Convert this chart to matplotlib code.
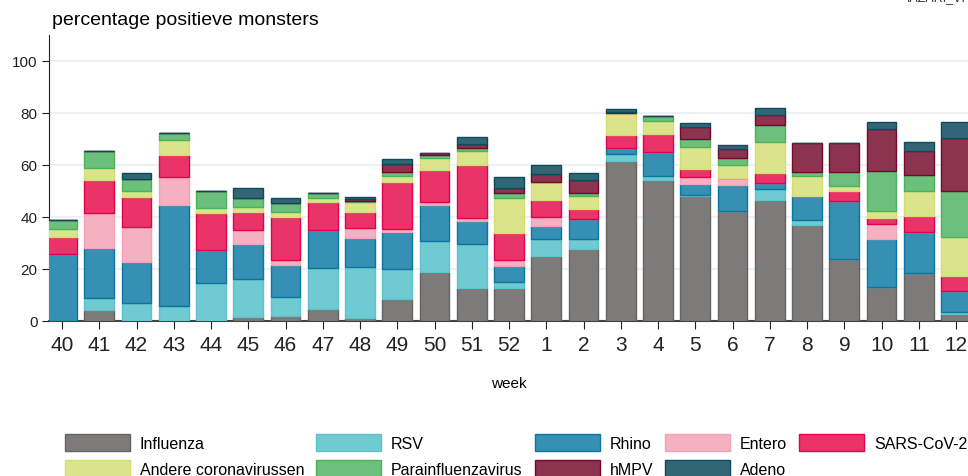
import numpy as np
import matplotlib
matplotlib.use("Agg")
import matplotlib.pyplot as plt
from matplotlib.patches import Patch

plt.rcParams['font.family'] = ['Liberation Sans', 'DejaVu Sans']

weeks = ['40', '41', '42', '43', '44', '45', '46', '47', '48', '49', '50', '51', '52',
         '1', '2', '3', '4', '5', '6', '7', '8', '9', '10', '11', '12']

# percentages per virus, per week (stacked in this order)
influenza = [0, 4.2, 0, 0, 0, 1.5, 1.9, 4.6, 1.0, 8.6, 18.8, 12.7, 12.7,
             25.0, 27.7, 61.5, 54.2, 48.2, 42.4, 46.5, 36.9, 23.8, 13.1, 18.6, 2.6]
rsv = [0, 4.5, 6.9, 5.6, 14.7, 14.5, 7.2, 15.9, 19.8, 11.3, 12.1, 16.7, 2.2,
       6.5, 3.8, 2.7, 1.4, 0.3, 0, 4.4, 2.1, 0, 0, 0, 0.7]
rhino = [25.8, 19.4, 15.8, 38.9, 12.4, 13.6, 12.6, 14.4, 11.1, 14.2, 13.8, 9.1, 6.3,
         5.0, 7.7, 2.3, 9.3, 4.2, 10.0, 2.2, 8.9, 22.4, 18.4, 15.6, 8.4]
entero = [0, 13.3, 13.6, 11.0, 0, 5.4, 1.9, 0, 3.9, 1.3, 0.9, 1.1, 2.3,
          3.6, 0, 0, 0, 2.6, 2.5, 0, 0, 0, 5.6, 0, 0]
sars = [6.4, 12.8, 11.4, 8.3, 14.4, 6.9, 16.4, 10.9, 6.1, 18.1, 12.5, 20.5, 10.5,
        6.4, 3.9, 4.9, 6.9, 3.2, 0, 3.8, 0, 3.7, 2.5, 6.2, 5.6]
andere = [3.2, 4.6, 2.4, 5.7, 2.0, 1.9, 1.8, 1.6, 3.7, 2.4, 4.6, 5.4, 13.1,
          6.8, 5.1, 8.7, 4.9, 8.3, 5.2, 11.9, 7.7, 2.0, 2.5, 9.6, 15.1]
para = [3.3, 6.5, 4.5, 2.7, 6.5, 3.5, 3.7, 1.7, 0.5, 1.4, 0.9, 1.0, 1.9,
        0, 1.0, 0, 2.1, 3.3, 2.6, 6.6, 1.7, 5.4, 15.7, 6.2, 17.6]
hmpv = [0, 0, 0, 0, 0, 0, 0, 0, 0.8, 3.2, 1.0, 1.6, 2.0,
        3.2, 5.0, 0.3, 0, 4.6, 3.5, 3.8, 11.2, 11.2, 16.0, 9.3, 20.5]
adeno = [0, 0, 2.2, 0, 0, 3.7, 1.7, 0, 0.9, 1.6, 0, 2.5, 4.3,
         3.5, 2.6, 1.0, 0, 1.3, 1.4, 2.6, 0, 0, 2.6, 3.2, 5.9]

names = ['Influenza', 'RSV', 'Rhino', 'Entero', 'SARS-CoV-2',
         'Andere coronavirussen', 'Parainfluenzavirus', 'hMPV', 'Adeno']
series = [influenza, rsv, rhino, entero, sars, andere, para, hmpv, adeno]
fills = ['#7d7b79', '#6fcad1', '#3590b4', '#f5b0c1', '#ea3369',
         '#dbe48a', '#6cc07b', '#8c3350', '#336674']
edges = ['#666462', '#5cc3cb', '#0b76a0', '#f3a3b6', '#e3004c',
         '#d3dd72', '#4db15e', '#730a2e', '#0d4a5c']

fig = plt.figure(figsize=(9.68, 4.77), dpi=100)
ax = fig.add_axes([0.051, 0.325, 0.949, 0.6])

x = np.arange(len(weeks))
bottom = np.zeros(len(weeks))
for vals, fc, ec in zip(series, fills, edges):
    vals = np.array(vals)
    ax.bar(x, vals, 0.8, bottom=bottom, color=fc, edgecolor=ec, linewidth=1, zorder=3)
    bottom += vals

ax.set_xlim(-0.34, 24.32)
ax.set_ylim(0, 110)
ax.set_yticks([0, 20, 40, 60, 80, 100])
ax.set_xticks(x)
ax.set_xticklabels(weeks, fontsize=15)
ax.tick_params(axis='y', labelsize=11, length=5, width=0.8, colors='#222222')
ax.tick_params(axis='x', length=6, width=0.8, pad=4, colors='#222222')
ax.grid(axis='y', color='#edf1f4', linewidth=1.5, zorder=0)
ax.spines['top'].set_visible(False)
ax.spines['right'].set_visible(False)
ax.spines['left'].set_color('#222222')
ax.spines['bottom'].set_color('#444444')
ax.spines['bottom'].set_linewidth(1.5)
ax.set_xlabel('week', fontsize=11, labelpad=16)

fig.text(0.054, 0.957, 'percentage positieve monsters', fontsize=14, ha='left', va='center')
fig.text(0.937, 0.997, 'IAZARI_VI', fontsize=9, ha='left', va='baseline', color='#333333')

# legend, reordered so it reads row by row
order = [0, 5, 1, 6, 2, 7, 3, 8, 4]
handles = [Patch(facecolor=fills[i], edgecolor=edges[i], linewidth=1) for i in order]
labels = [names[i] for i in order]
fig.legend(handles, labels, ncol=5, loc='lower left', bbox_to_anchor=(0.067, -0.002),
           frameon=False, fontsize=11.5, handlelength=4.06, handleheight=1.25,
           handletextpad=0.63, columnspacing=0.75, labelspacing=0.55, borderpad=0,
           borderaxespad=0)

fig.savefig('out.png', dpi=100)
